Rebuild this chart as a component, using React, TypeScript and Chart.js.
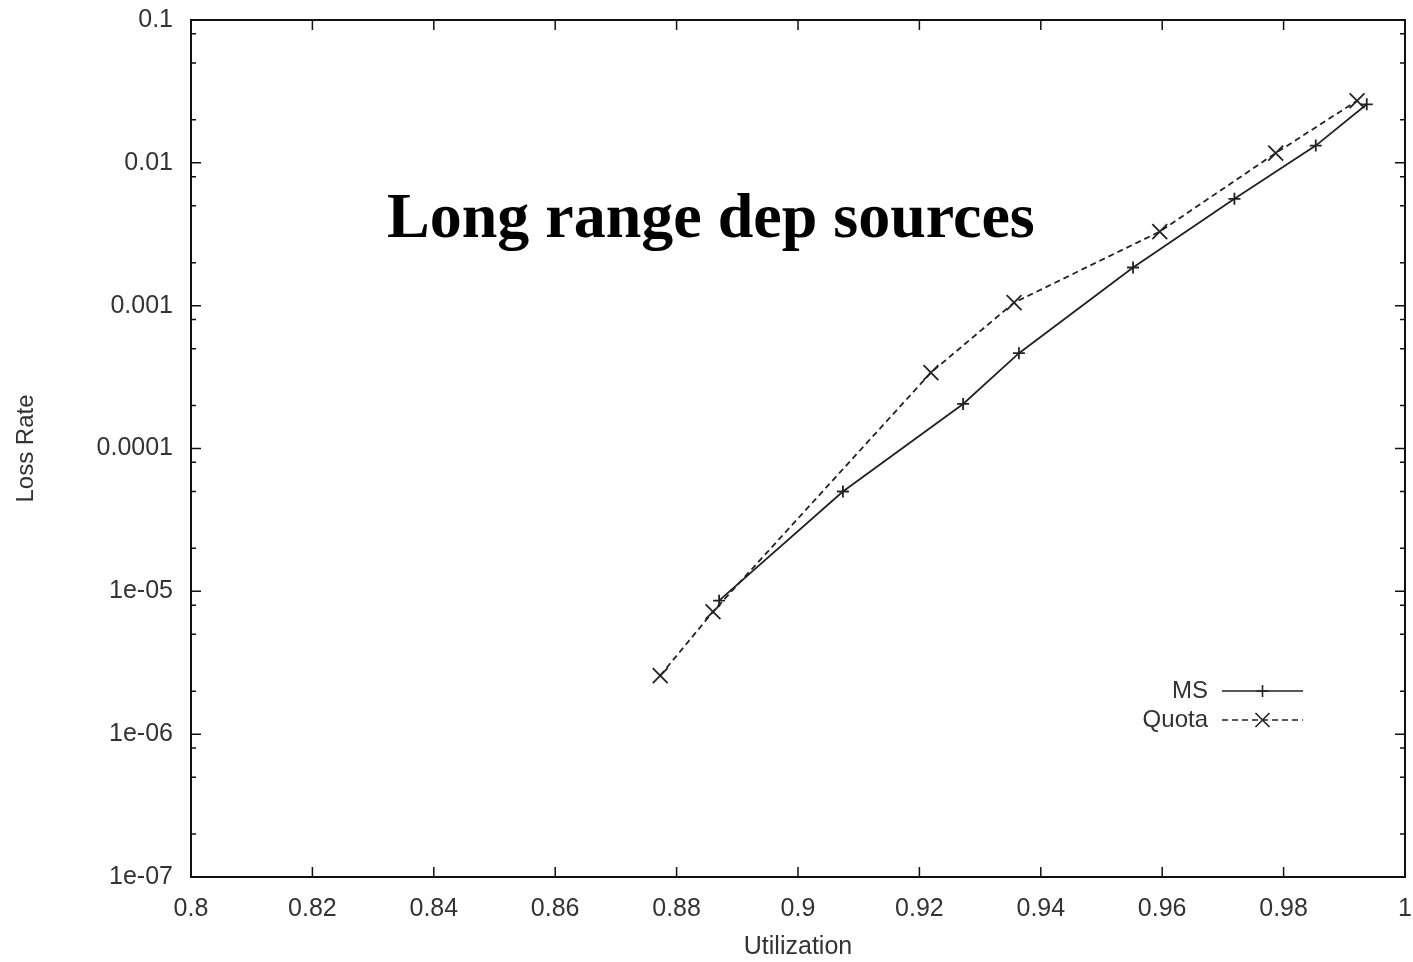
import React, { useEffect, useRef } from 'react';
import { Chart, registerables } from 'chart.js';

Chart.register(...registerables);

const msUtil = [0.887, 0.9074, 0.9272, 0.9364, 0.9552, 0.9719, 0.9853, 0.9937];
const msLoss = [8.6e-6, 5.0e-5, 2.05e-4, 4.65e-4, 1.85e-3, 5.6e-3, 1.32e-2, 2.57e-2];
const quotaUtil = [0.8773, 0.886, 0.9219, 0.9356, 0.9596, 0.9787, 0.9921];
const quotaLoss = [2.57e-6, 7.2e-6, 3.4e-4, 1.05e-3, 3.3e-3, 1.17e-2, 2.72e-2];

const seriesNames = ['MS', 'Quota'];
const chartTitle = 'Long range dep sources';
const xAxisTitle = 'Utilization';
const yAxisTitle = 'Loss Rate';

const xTickValues = [0.8, 0.82, 0.84, 0.86, 0.88, 0.9, 0.92, 0.94, 0.96, 0.98, 1];
const xTickLabels = ['0.8', '0.82', '0.84', '0.86', '0.88', '0.9', '0.92', '0.94', '0.96', '0.98', '1'];
const yTickValues = [1e-7, 1e-6, 1e-5, 1e-4, 1e-3, 1e-2, 1e-1];
const yTickLabels = ['1e-07', '1e-06', '1e-05', '0.0001', '0.001', '0.01', '0.1'];
const yMinorFactors = [2, 5, 8];

const INK = '#222222';
const TEXT = '#333333';

const zeroPad = (s: any) => {
  s.paddingLeft = 0;
  s.paddingRight = 0;
  s.paddingTop = 0;
  s.paddingBottom = 0;
};

const framePlugin = {
  id: 'gnuFrame',
  afterDraw(chart: any) {
    const { ctx, chartArea } = chart;
    const { left, right, top, bottom } = chartArea;
    const xs = chart.scales.x;
    const ys = chart.scales.y;
    ctx.save();
    ctx.strokeStyle = '#111';
    ctx.lineWidth = 2;
    ctx.strokeRect(left, top, right - left, bottom - top);
    ctx.lineWidth = 1.5;
    ctx.beginPath();
    xTickValues.forEach((v) => {
      const px = xs.getPixelForValue(v);
      ctx.moveTo(px, bottom);
      ctx.lineTo(px, bottom - 10);
      ctx.moveTo(px, top);
      ctx.lineTo(px, top + 10);
    });
    yTickValues.forEach((v, i) => {
      const py = ys.getPixelForValue(v);
      ctx.moveTo(left, py);
      ctx.lineTo(left + 10, py);
      ctx.moveTo(right, py);
      ctx.lineTo(right - 10, py);
      if (i < yTickValues.length - 1) {
        yMinorFactors.forEach((f) => {
          const pm = ys.getPixelForValue(v * f);
          ctx.moveTo(left, pm);
          ctx.lineTo(left + 5, pm);
          ctx.moveTo(right, pm);
          ctx.lineTo(right - 5, pm);
        });
      }
    });
    ctx.stroke();

    ctx.fillStyle = '#000';
    ctx.font = 'bold 64px "Liberation Serif", "Times New Roman", serif';
    ctx.textAlign = 'left';
    ctx.textBaseline = 'alphabetic';
    ctx.fillText(chartTitle, left + 196, top + 217);

    ctx.font = '24px "Liberation Sans", Arial, sans-serif';
    ctx.fillStyle = TEXT;
    ctx.textAlign = 'right';
    ctx.textBaseline = 'middle';
    const lx0 = 1222;
    const lx1 = 1303;
    const lxm = (lx0 + lx1) / 2;
    const rows = [691, 720];
    seriesNames.forEach((name, i) => {
      const y = rows[i];
      ctx.fillText(name, 1208, y);
      ctx.strokeStyle = INK;
      ctx.lineWidth = 1.6;
      ctx.setLineDash(i === 0 ? [] : [6, 4]);
      ctx.beginPath();
      ctx.moveTo(lx0, y);
      ctx.lineTo(lx1, y);
      ctx.stroke();
      ctx.setLineDash([]);
      ctx.beginPath();
      if (i === 0) {
        ctx.moveTo(lxm - 6, y);
        ctx.lineTo(lxm + 6, y);
        ctx.moveTo(lxm, y - 6);
        ctx.lineTo(lxm, y + 6);
      } else {
        ctx.moveTo(lxm - 7, y - 7);
        ctx.lineTo(lxm + 7, y + 7);
        ctx.moveTo(lxm - 7, y + 7);
        ctx.lineTo(lxm + 7, y - 7);
      }
      ctx.stroke();
    });
    ctx.restore();
  },
};

export default function App() {
  const ref = useRef<HTMLCanvasElement | null>(null);
  useEffect(() => {
    if (!ref.current) return;
    const chart = new Chart(ref.current, {
      type: 'line',
      data: {
        datasets: [
          {
            label: seriesNames[0],
            data: msUtil.map((x, i) => ({ x, y: msLoss[i] })),
            borderColor: INK,
            backgroundColor: INK,
            borderWidth: 1.8,
            pointStyle: 'cross',
            pointRadius: 6,
            pointBorderWidth: 1.8,
            pointBorderColor: INK,
            tension: 0,
            fill: false,
          },
          {
            label: seriesNames[1],
            data: quotaUtil.map((x, i) => ({ x, y: quotaLoss[i] })),
            borderColor: INK,
            backgroundColor: INK,
            borderWidth: 1.8,
            borderDash: [6, 4],
            pointStyle: 'crossRot',
            pointRadius: 10.5,
            pointBorderWidth: 1.8,
            pointBorderColor: INK,
            tension: 0,
            fill: false,
          },
        ],
      },
      plugins: [framePlugin],
      options: {
        animation: false,
        responsive: false,
        maintainAspectRatio: false,
        layout: { autoPadding: false, padding: { top: 20, right: 8, left: 0, bottom: 0 } },
        plugins: {
          legend: { display: false },
          tooltip: { enabled: false },
          title: { display: false },
        },
        scales: {
          x: {
            type: 'linear',
            min: 0.8,
            max: 1,
            afterBuildTicks: (s: any) => {
              s.ticks = xTickValues.map((v) => ({ value: v }));
            },
            afterFit: (s: any) => {
              s.height = 85;
              zeroPad(s);
            },
            grid: { display: false, drawTicks: false },
            border: { display: false },
            ticks: {
              autoSkip: false,
              maxRotation: 0,
              padding: 17,
              color: TEXT,
              font: { family: '"Liberation Sans", Arial, sans-serif', size: 25 },
              callback: (_v: any, i: number) => xTickLabels[i],
            },
            title: {
              display: true,
              text: xAxisTitle,
              color: TEXT,
              padding: { top: 0, bottom: 0 },
              font: { family: '"Liberation Sans", Arial, sans-serif', size: 25 },
            },
          },
          y: {
            type: 'logarithmic',
            min: 1e-7,
            max: 0.1,
            afterBuildTicks: (s: any) => {
              s.ticks = yTickValues.map((v) => ({ value: v, major: true }));
            },
            afterFit: (s: any) => {
              s.width = 191;
              zeroPad(s);
            },
            grid: { display: false, drawTicks: false },
            border: { display: false },
            ticks: {
              autoSkip: false,
              padding: 18,
              color: TEXT,
              font: { family: '"Liberation Sans", Arial, sans-serif', size: 25 },
              callback: (_v: any, i: number) => yTickLabels[i],
            },
            title: {
              display: true,
              text: yAxisTitle,
              color: TEXT,
              padding: { top: 12, bottom: 0 },
              font: { family: '"Liberation Sans", Arial, sans-serif', size: 24 },
            },
          },
        },
      },
    });
    return () => chart.destroy();
  }, []);
  return (
    <div style={{ position: 'absolute', left: 0, top: 0, width: 1413, height: 962, background: '#fff' }}>
      <canvas ref={ref} width={1413} height={962} style={{ display: 'block' }} />
    </div>
  );
}
